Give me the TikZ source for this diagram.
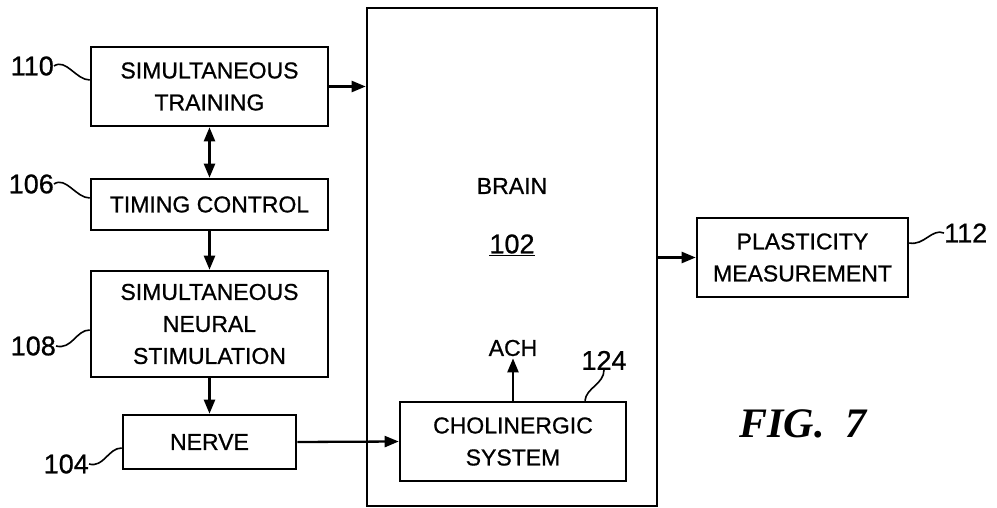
\documentclass[tikz,border=0pt]{standalone}
\usepackage{fontspec}
\setmainfont{Liberation Sans}[FakeBold=0.8]
\newfontfamily\figfont{Liberation Serif}
\usepackage{tikz}
\usetikzlibrary{arrows.meta}

\tikzset{
    blockbox/.style={draw, line width=2.6pt, align=center, inner sep=0pt,
        font=\fontsize{23}{32}\selectfont},
    flow/.style={line width=2.3pt, -{Triangle[length=14pt,width=11pt]}},
    refnum/.style={font=\fontsize{27}{27}\selectfont, inner sep=0pt},
    leader/.style={line width=1.6pt}
}

\begin{document}
\begin{tikzpicture}[x=1pt,y=-1pt]
    \useasboundingbox (0,0) rectangle (997,508);
    % left column
    \node[blockbox, minimum width=237, minimum height=79] (train) at (209.5,86.5) {SIMULTANEOUS\\TRAINING};
    \node[blockbox, minimum width=237, minimum height=51] (timing) at (209.5,204.5) {TIMING CONTROL};
    \node[blockbox, minimum width=237, minimum height=106] (stim) at (209.5,324) {SIMULTANEOUS\\NEURAL\\STIMULATION};
    \node[blockbox, minimum width=173, minimum height=54] (nerve) at (209.5,442) {NERVE};
    % brain and inner parts
    \node[blockbox, minimum width=290, minimum height=498] (brain) at (512,257) {};
    \node[font=\fontsize{23}{23}\selectfont] (braintxt) at (512,186) {BRAIN};
    \node[font=\fontsize{27}{27}\selectfont] (brainnum) at (512,245) {\underline{102}};
    \node[blockbox, minimum width=226, minimum height=79] (chol) at (513,441.5) {CHOLINERGIC\\SYSTEM};
    \node[font=\fontsize{23}{23}\selectfont, inner sep=2pt] (ach) at (513,348) {ACH};
    % right side
    \node[blockbox, minimum width=211, minimum height=79] (plast) at (802.5,257.5) {PLASTICITY\\MEASUREMENT};
    \node[font=\figfont\bfseries\itshape\fontsize{42}{42}\selectfont] (fig) at (803,424) {FIG.\ \ 7};

    % connectors
    \draw[flow] (train.east) -- (train.east -| brain.west);
    \draw[line width=2.3pt, {Triangle[length=14pt,width=11pt]}-{Triangle[length=14pt,width=11pt]}] (train.south) -- (timing.north);
    \draw[flow] (timing.south) -- (stim.north);
    \draw[flow] (stim.south) -- (nerve.north);
    \draw[flow] (nerve.east) -- (chol.west);
    \draw[flow] (chol.north) -- (ach.south);
    \draw[flow] (plast.west -| brain.east) -- (plast.west);

    % reference numerals
    \node[refnum, anchor=east] (n110) at (54,66) {110};
    \node[refnum, anchor=east] (n106) at (54,184) {106};
    \node[refnum, anchor=east] (n108) at (56,346) {108};
    \node[refnum, anchor=east] (n104) at (89,464) {104};
    \node[refnum, anchor=west] (n112) at (944,233) {112};
    \node[refnum, anchor=south] (n124) at (604,370) {124};
    \draw[leader] (n110.east) .. controls (66,58) and (76,80) .. (train.west |- 0,80);
    \draw[leader] (n106.east) .. controls (66,176) and (76,198) .. (timing.west |- 0,198);
    \draw[leader] (n108.east) .. controls (72,350) and (76,330) .. (stim.west |- 0,330);
    \draw[leader] (n104.east) .. controls (104,468) and (108,448) .. (nerve.west |- 0,448);
    \draw[leader] (n112.west) .. controls (932,228) and (924,246) .. (plast.east |- 0,243);
    \draw[leader] (n124.south) .. controls (604,384) and (586,388) .. (chol.north -| 585,0);
\end{tikzpicture}
\end{document}
